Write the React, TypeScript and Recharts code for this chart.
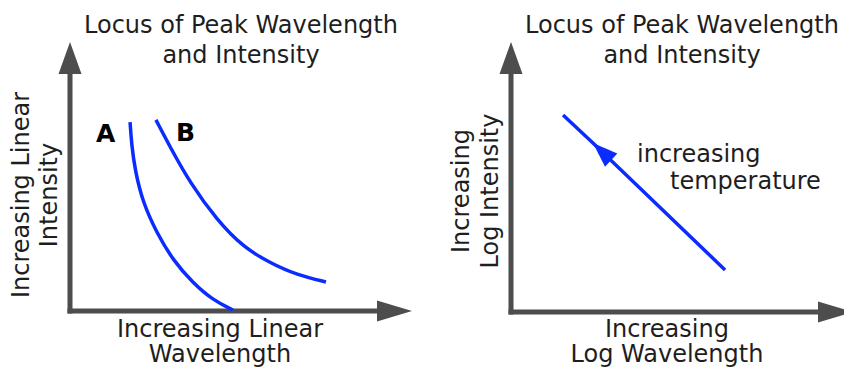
import React from "react";
import { LineChart, Line, XAxis, YAxis, ReferenceLine, ReferenceDot } from "recharts";

// Peak-locus curves on linear axes (wavelength 0–100, intensity 0–100)
const curveA = [
  { x: 19.5, y: 79.4 },
  { x: 20.0, y: 70.0 },
  { x: 21.1, y: 59.2 },
  { x: 23.7, y: 45.4 },
  { x: 28.2, y: 32.8 },
  { x: 33.4, y: 21.4 },
  { x: 39.9, y: 11.8 },
  { x: 46.4, y: 4.6 },
  { x: 52.9, y: 0.4 },
];
const curveB = [
  { x: 27.9, y: 80.3 },
  { x: 32.5, y: 68.9 },
  { x: 39.0, y: 53.8 },
  { x: 47.7, y: 38.2 },
  { x: 56.2, y: 26.9 },
  { x: 64.9, y: 20.2 },
  { x: 73.7, y: 15.1 },
  { x: 83.1, y: 12.2 },
];
// Same locus on log–log axes: a straight line; the middle point carries the arrowhead
const logTrack = [
  { x: 16.9, y: 82.4 },
  { x: 26.6, y: 70.7 },
  { x: 69.5, y: 17.6 },
];

const titleLines = ["Locus of Peak Wavelength", "and Intensity"];
const linearYLabel = ["Increasing Linear", "Intensity"];
const linearXLabel = ["Increasing Linear", "Wavelength"];
const logYLabel = ["Increasing", "Log Intensity"];
const logXLabel = ["Increasing", "Log Wavelength"];
const trendNote = ["increasing", "temperature"];
const curveNames = ["A", "B"];

const AXIS = "#4d4d4d";
const BLUE = "#0b2cff";
const INK = "#1e1e1e";
const FONT = "'DejaVu Sans', Verdana, sans-serif";

const RightArrow = (p: any) => (
  <polygon
    points={`${p.cx - 1},${p.cy - 10.5} ${p.cx + 34},${p.cy} ${p.cx - 1},${p.cy + 10.5}`}
    fill={AXIS}
  />
);
const UpArrow = (p: any) => (
  <polygon
    points={`${p.cx - 11.5},${p.cy + 1} ${p.cx},${p.cy - 31} ${p.cx + 11.5},${p.cy + 1}`}
    fill={AXIS}
  />
);

const Axes = () => (
  <>
    <ReferenceLine
      segment={[{ x: 0, y: 0 }, { x: 100, y: 0 }]}
      stroke={AXIS}
      strokeWidth={5}
      strokeLinecap="square"
      ifOverflow="visible"
    />
    <ReferenceLine
      segment={[{ x: 0, y: 0 }, { x: 0, y: 100 }]}
      stroke={AXIS}
      strokeWidth={5}
      strokeLinecap="square"
      ifOverflow="visible"
    />
    <ReferenceDot x={100} y={0} ifOverflow="visible" shape={RightArrow} />
    <ReferenceDot x={0} y={100} ifOverflow="visible" shape={UpArrow} />
  </>
);

const textStyle = { fontFamily: FONT, fontSize: 24, fill: INK };

const Lines2 = ({ lines, x, y, gap }: { lines: string[]; x: number; y: number; gap: number }) => (
  <g>
    {lines.map((t, i) => (
      <text key={t} x={x} y={y + i * gap} textAnchor="middle" style={textStyle}>
        {t}
      </text>
    ))}
  </g>
);

const Vertical2 = ({ lines, x, y, gap }: { lines: string[]; x: number; y: number; gap: number }) => (
  <g>
    {lines.map((t, i) => (
      <text
        key={t}
        x={x + i * gap}
        y={y}
        textAnchor="middle"
        transform={`rotate(-90, ${x + i * gap}, ${y})`}
        style={textStyle}
      >
        {t}
      </text>
    ))}
  </g>
);

function makeArrowDot() {
  let tail: { x: number; y: number } | null = null;
  return (p: any) => {
    const { cx, cy, index } = p;
    if (index === 0) {
      tail = { x: cx, y: cy };
      return <g key={`d${index}`} />;
    }
    if (index !== 1 || !tail) return <g key={`d${index}`} />;
    const dx = tail.x - cx;
    const dy = tail.y - cy;
    const len = Math.hypot(dx, dy) || 1;
    const ux = dx / len;
    const uy = dy / len;
    const L = 25;
    const W = 9;
    const bx = cx - ux * L;
    const by = cy - uy * L;
    const pts = `${cx},${cy} ${bx - uy * W},${by + ux * W} ${bx + uy * W},${by - ux * W}`;
    return <polygon key={`d${index}`} points={pts} fill={BLUE} />;
  };
}

const boldStyle = { fontFamily: FONT, fontSize: 25, fontWeight: 700, fill: "#000" };

export default function App() {
  const arrowDot = makeArrowDot();
  return (
    <div style={{ position: "absolute", left: 0, top: 0, width: 844, height: 369, background: "#fff", overflow: "hidden" }}>
      <div style={{ position: "absolute", left: 0, top: 0 }}>
        <LineChart width={422} height={369} margin={{ top: 73, left: 70, right: 44, bottom: 58 }}>
          <XAxis dataKey="x" type="number" domain={[0, 100]} hide />
          <YAxis dataKey="y" type="number" domain={[0, 100]} hide />
          {Axes()}
          <Line data={curveA} dataKey="y" type="basis" stroke={BLUE} strokeWidth={3.5} dot={false} activeDot={false} isAnimationActive={false} />
          <Line data={curveB} dataKey="y" type="basis" stroke={BLUE} strokeWidth={3.5} dot={false} activeDot={false} isAnimationActive={false} />
          <Lines2 lines={titleLines} x={241} y={33} gap={30} />
          <Vertical2 lines={linearYLabel} x={29} y={195} gap={28} />
          <Lines2 lines={linearXLabel} x={220} y={337} gap={25} />
          <text x={96} y={142} style={boldStyle}>{curveNames[0]}</text>
          <text x={176} y={141} style={boldStyle}>{curveNames[1]}</text>
        </LineChart>
      </div>
      <div style={{ position: "absolute", left: 422, top: 0 }}>
        <LineChart width={422} height={369} margin={{ top: 73, left: 89, right: 25, bottom: 57 }}>
          <XAxis dataKey="x" type="number" domain={[0, 100]} hide />
          <YAxis dataKey="y" type="number" domain={[0, 100]} hide />
          {Axes()}
          <Line data={logTrack} dataKey="y" type="linear" stroke={BLUE} strokeWidth={3.5} dot={arrowDot} activeDot={false} isAnimationActive={false} />
          <Lines2 lines={titleLines} x={260} y={33} gap={30} />
          <Vertical2 lines={logYLabel} x={47} y={191} gap={29} />
          <Lines2 lines={logXLabel} x={245} y={337} gap={25} />
          <text x={215} y={162} style={textStyle}>{trendNote[0]}</text>
          <text x={248} y={189} style={textStyle}>{trendNote[1]}</text>
        </LineChart>
      </div>
    </div>
  );
}
